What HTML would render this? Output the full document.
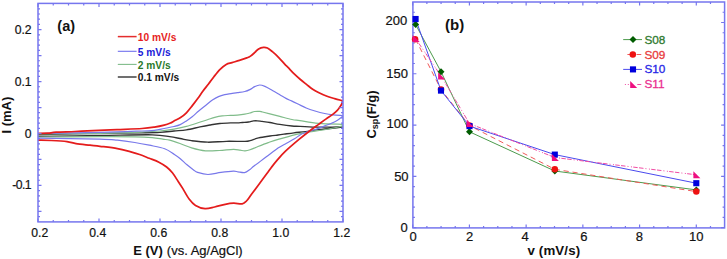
<!DOCTYPE html>
<html><head><meta charset="utf-8"><title>CV and specific capacitance</title>
<style>
html,body{margin:0;padding:0;background:#fff;}
body{width:727px;height:259px;overflow:hidden;font-family:"Liberation Sans",sans-serif;}
svg{display:block;}
</style></head><body>
<svg width="727" height="259" viewBox="0 0 727 259">
<defs><clipPath id="ca"><rect x="38.0" y="3.4" width="305.0" height="218.5"/></clipPath><clipPath id="cb"><rect x="412.9" y="2.0" width="311.7" height="225.9"/></clipPath></defs>
<g clip-path="url(#ca)" fill="none" stroke-linejoin="round" stroke-linecap="round">
<path d="M38.50,134.50 C48.75,134.32 82.75,133.68 100.00,133.40 C117.25,133.12 132.00,132.98 142.00,132.80 C152.00,132.62 154.67,132.60 160.00,132.30 C165.33,132.00 169.60,131.40 174.00,131.00 C178.40,130.60 182.07,130.58 186.40,129.90 C190.73,129.22 196.08,127.72 200.00,126.90 C203.92,126.08 206.60,125.57 209.90,125.00 C213.20,124.43 216.28,123.85 219.80,123.50 C223.32,123.15 228.07,123.00 231.00,122.90 C233.93,122.80 235.50,122.97 237.40,122.90 C239.30,122.83 240.55,122.65 242.40,122.50 C244.25,122.35 246.65,122.27 248.50,122.00 C250.35,121.73 252.05,121.10 253.50,120.90 C254.95,120.70 255.78,120.72 257.20,120.80 C258.62,120.88 259.88,121.12 262.00,121.40 C264.12,121.68 266.93,122.00 269.90,122.50 C272.87,123.00 276.12,123.82 279.80,124.40 C283.48,124.98 288.63,125.68 292.00,126.00 C295.37,126.32 295.58,126.12 300.00,126.30 C304.42,126.48 311.47,127.03 318.50,127.10 C325.53,127.17 338.25,126.77 342.20,126.70 L342.20,127.20 C338.17,127.62 324.10,128.97 318.00,129.70 C311.90,130.43 309.60,131.08 305.60,131.60 C301.60,132.12 297.60,132.37 294.00,132.80 C290.40,133.23 286.67,133.83 284.00,134.20 C281.33,134.57 280.33,134.70 278.00,135.00 C275.67,135.30 273.23,135.52 270.00,136.00 C266.77,136.48 261.93,137.13 258.60,137.90 C255.27,138.67 252.27,140.02 250.00,140.60 C247.73,141.18 248.93,141.28 245.00,141.40 C241.07,141.52 232.60,141.17 226.40,141.30 C220.20,141.43 213.60,142.30 207.80,142.20 C202.00,142.10 196.23,141.32 191.60,140.70 C186.97,140.08 183.67,139.17 180.00,138.50 C176.33,137.83 174.23,137.32 169.60,136.70 C164.97,136.08 163.80,135.00 152.20,134.80 C140.60,134.60 118.95,135.25 100.00,135.50 C81.05,135.75 48.75,136.17 38.50,136.30" stroke="#333333" stroke-width="1.35"/>
<path d="M38.50,134.00 C48.75,133.88 82.75,133.63 100.00,133.30 C117.25,132.97 132.00,132.38 142.00,132.00 C152.00,131.62 154.67,131.47 160.00,131.00 C165.33,130.53 169.60,129.97 174.00,129.20 C178.40,128.43 182.15,127.55 186.40,126.40 C190.65,125.25 196.00,123.40 199.50,122.30 C203.00,121.20 204.85,120.63 207.40,119.80 C209.95,118.97 212.33,117.97 214.80,117.30 C217.27,116.63 219.58,116.12 222.20,115.80 C224.82,115.48 227.97,115.52 230.50,115.40 C233.03,115.28 235.02,115.30 237.40,115.10 C239.78,114.90 242.73,114.55 244.80,114.20 C246.87,113.85 248.15,113.45 249.80,113.00 C251.45,112.55 253.05,111.77 254.70,111.50 C256.35,111.23 258.40,111.32 259.70,111.40 C261.00,111.48 260.80,111.58 262.50,112.00 C264.20,112.42 267.02,113.17 269.90,113.90 C272.78,114.63 276.12,115.47 279.80,116.40 C283.48,117.33 288.63,118.78 292.00,119.50 C295.37,120.22 295.58,120.05 300.00,120.70 C304.42,121.35 311.47,122.80 318.50,123.40 C325.53,124.00 338.25,124.15 342.20,124.30 L342.20,126.20 C339.00,126.83 330.03,128.77 323.00,130.00 C315.97,131.23 307.35,132.07 300.00,133.60 C292.65,135.13 284.18,137.70 278.90,139.20 C273.62,140.70 271.78,141.38 268.30,142.60 C264.82,143.82 261.05,145.30 258.00,146.50 C254.95,147.70 252.17,149.08 250.00,149.80 C247.83,150.52 246.67,150.73 245.00,150.80 C243.33,150.87 241.93,150.43 240.00,150.20 C238.07,149.97 236.83,149.35 233.40,149.40 C229.97,149.45 224.05,150.27 219.40,150.50 C214.75,150.73 210.13,151.25 205.50,150.80 C200.87,150.35 195.85,149.02 191.60,147.80 C187.35,146.58 183.67,144.77 180.00,143.50 C176.33,142.23 172.47,140.92 169.60,140.20 C166.73,139.48 165.70,139.63 162.80,139.20 C159.90,138.77 156.87,138.00 152.20,137.60 C147.53,137.20 143.50,136.95 134.80,136.80 C126.10,136.65 116.05,136.67 100.00,136.70 C83.95,136.73 48.75,136.95 38.50,137.00" stroke="#80bc8a" stroke-width="1.2"/>
<path d="M38.50,133.50 C48.75,133.32 82.75,132.82 100.00,132.40 C117.25,131.98 132.93,131.33 142.00,131.00 C151.07,130.67 150.70,130.82 154.40,130.40 C158.10,129.98 160.93,129.15 164.20,128.50 C167.47,127.85 171.33,127.15 174.00,126.50 C176.67,125.85 178.13,125.53 180.20,124.60 C182.27,123.67 184.35,122.25 186.40,120.90 C188.45,119.55 190.45,118.15 192.50,116.50 C194.55,114.85 196.42,112.92 198.70,111.00 C200.98,109.08 203.92,106.82 206.20,105.00 C208.48,103.18 210.35,101.50 212.40,100.10 C214.45,98.70 216.45,97.52 218.50,96.60 C220.55,95.68 222.62,95.10 224.70,94.60 C226.78,94.10 228.88,93.92 231.00,93.60 C233.12,93.28 235.10,93.05 237.40,92.70 C239.70,92.35 242.73,92.02 244.80,91.50 C246.87,90.98 248.15,90.42 249.80,89.60 C251.45,88.78 253.05,87.37 254.70,86.60 C256.35,85.83 258.00,85.03 259.70,85.00 C261.40,84.97 262.78,85.50 264.90,86.40 C267.02,87.30 269.92,89.02 272.40,90.40 C274.88,91.78 277.53,93.37 279.80,94.70 C282.07,96.03 284.05,97.37 286.00,98.40 C287.95,99.43 289.50,99.97 291.50,100.90 C293.50,101.83 295.55,102.82 298.00,104.00 C300.45,105.18 303.37,106.83 306.20,108.00 C309.03,109.17 311.92,110.08 315.00,111.00 C318.08,111.92 321.70,112.87 324.70,113.50 C327.70,114.13 330.08,114.47 333.00,114.80 C335.92,115.13 340.67,115.38 342.20,115.50 L342.40,116.40 C342.20,116.57 342.08,116.73 341.20,117.40 C340.32,118.07 338.82,119.38 337.10,120.40 C335.38,121.42 332.97,122.58 330.90,123.50 C328.83,124.42 326.77,125.08 324.70,125.90 C322.63,126.72 320.55,127.67 318.50,128.40 C316.45,129.13 314.67,129.57 312.40,130.30 C310.13,131.03 306.97,132.02 304.90,132.80 C302.83,133.58 301.73,134.00 300.00,135.00 C298.27,136.00 296.95,137.32 294.50,138.80 C292.05,140.28 288.05,142.37 285.30,143.90 C282.55,145.43 281.22,145.80 278.00,148.00 C274.78,150.20 270.00,154.08 266.00,157.10 C262.00,160.12 256.67,164.05 254.00,166.10 C251.33,168.15 251.57,168.32 250.00,169.40 C248.43,170.48 246.60,172.20 244.60,172.60 C242.60,173.00 239.87,172.03 238.00,171.80 C236.13,171.57 236.23,171.10 233.40,171.20 C230.57,171.30 225.23,171.85 221.00,172.40 C216.77,172.95 211.90,174.50 208.00,174.50 C204.10,174.50 200.00,173.17 197.60,172.40 C195.20,171.63 195.37,171.17 193.60,169.90 C191.83,168.63 189.27,166.70 187.00,164.80 C184.73,162.90 182.10,160.22 180.00,158.50 C177.90,156.78 176.95,156.13 174.40,154.50 C171.85,152.87 168.88,150.25 164.70,148.70 C160.52,147.15 154.28,146.23 149.30,145.20 C144.32,144.17 140.12,143.33 134.80,142.50 C129.48,141.67 123.20,140.77 117.40,140.20 C111.60,139.63 113.15,139.43 100.00,139.10 C86.85,138.77 48.75,138.35 38.50,138.20" stroke="#7878ea" stroke-width="1.2"/>
<path d="M38.50,133.40 C40.08,133.37 45.08,133.40 48.00,133.20 C50.92,133.00 51.50,132.48 56.00,132.20 C60.50,131.92 68.83,131.77 75.00,131.50 C81.17,131.23 86.00,130.92 93.00,130.60 C100.00,130.28 108.83,129.95 117.00,129.60 C125.17,129.25 135.77,128.92 142.00,128.50 C148.23,128.08 150.70,127.67 154.40,127.10 C158.10,126.53 161.53,125.78 164.20,125.10 C166.87,124.42 168.77,123.68 170.40,123.00 C172.03,122.32 172.37,121.87 174.00,121.00 C175.63,120.13 178.13,119.17 180.20,117.80 C182.27,116.43 184.35,114.87 186.40,112.80 C188.45,110.73 190.55,107.87 192.50,105.40 C194.45,102.93 196.35,100.40 198.10,98.00 C199.85,95.60 201.27,93.33 203.00,91.00 C204.73,88.67 206.68,86.38 208.50,84.00 C210.32,81.62 211.97,79.15 213.90,76.70 C215.83,74.25 218.05,71.35 220.10,69.30 C222.15,67.25 224.22,65.52 226.20,64.40 C228.18,63.28 229.80,63.27 232.00,62.60 C234.20,61.93 236.93,61.18 239.40,60.40 C241.87,59.62 244.95,58.62 246.80,57.90 C248.65,57.18 249.15,57.02 250.50,56.10 C251.85,55.18 253.55,53.60 254.90,52.40 C256.25,51.20 257.17,49.75 258.60,48.90 C260.03,48.05 262.03,47.45 263.50,47.30 C264.97,47.15 265.92,47.27 267.40,48.00 C268.88,48.73 270.55,50.15 272.40,51.70 C274.25,53.25 276.45,55.23 278.50,57.30 C280.55,59.37 283.12,62.42 284.70,64.10 C286.28,65.78 286.42,65.77 288.00,67.40 C289.58,69.03 292.13,71.88 294.20,73.90 C296.27,75.92 298.35,77.75 300.40,79.50 C302.45,81.25 304.45,82.77 306.50,84.40 C308.55,86.03 310.53,87.87 312.70,89.30 C314.87,90.73 317.12,91.85 319.50,93.00 C321.88,94.15 324.48,95.27 327.00,96.20 C329.52,97.13 332.10,97.87 334.60,98.60 C337.10,99.33 340.77,100.27 342.00,100.60 L342.60,101.60 C342.47,102.00 342.17,103.23 341.80,104.00 C341.43,104.77 341.15,105.15 340.40,106.20 C339.65,107.25 338.63,108.90 337.30,110.30 C335.97,111.70 334.25,113.17 332.40,114.60 C330.55,116.03 328.50,117.27 326.20,118.90 C323.90,120.53 321.15,122.55 318.60,124.40 C316.05,126.25 314.12,127.53 310.90,130.00 C307.68,132.47 303.53,135.67 299.30,139.20 C295.07,142.73 289.18,147.72 285.50,151.20 C281.82,154.68 279.53,157.43 277.20,160.10 C274.87,162.77 273.22,164.95 271.50,167.20 C269.78,169.45 268.95,170.80 266.90,173.60 C264.85,176.40 261.77,180.55 259.20,184.00 C256.63,187.45 253.62,191.47 251.50,194.30 C249.38,197.13 248.05,199.42 246.50,201.00 C244.95,202.58 244.33,203.43 242.20,203.80 C240.07,204.17 236.53,203.12 233.70,203.20 C230.87,203.28 228.38,203.67 225.20,204.30 C222.02,204.93 217.97,206.28 214.60,207.00 C211.23,207.72 208.18,208.87 205.00,208.60 C201.82,208.33 198.15,207.00 195.50,205.40 C192.85,203.80 191.23,201.83 189.10,199.00 C186.97,196.17 184.52,191.32 182.70,188.40 C180.88,185.48 179.92,184.10 178.20,181.50 C176.48,178.90 174.33,175.22 172.40,172.80 C170.47,170.38 168.85,168.77 166.60,167.00 C164.35,165.23 161.78,163.65 158.90,162.20 C156.02,160.75 152.52,159.58 149.30,158.30 C146.08,157.02 142.82,155.62 139.60,154.50 C136.38,153.38 133.70,152.58 130.00,151.60 C126.30,150.62 122.40,149.48 117.40,148.60 C112.40,147.72 104.57,146.87 100.00,146.30 C95.43,145.73 94.00,145.65 90.00,145.20 C86.00,144.75 79.83,144.20 76.00,143.60 C72.17,143.00 71.08,142.12 67.00,141.60 C62.92,141.08 56.25,140.73 51.50,140.50 C46.75,140.27 40.67,140.25 38.50,140.20" stroke="#e41c1c" stroke-width="1.75"/>
</g>
<path d="M38.00,221.90v-3.50 M38.00,3.40v3.50 M53.25,221.90v-2.00 M53.25,3.40v2.00 M68.50,221.90v-2.00 M68.50,3.40v2.00 M83.75,221.90v-2.00 M83.75,3.40v2.00 M99.00,221.90v-3.50 M99.00,3.40v3.50 M114.25,221.90v-2.00 M114.25,3.40v2.00 M129.50,221.90v-2.00 M129.50,3.40v2.00 M144.75,221.90v-2.00 M144.75,3.40v2.00 M160.00,221.90v-3.50 M160.00,3.40v3.50 M175.25,221.90v-2.00 M175.25,3.40v2.00 M190.50,221.90v-2.00 M190.50,3.40v2.00 M205.75,221.90v-2.00 M205.75,3.40v2.00 M221.00,221.90v-3.50 M221.00,3.40v3.50 M236.25,221.90v-2.00 M236.25,3.40v2.00 M251.50,221.90v-2.00 M251.50,3.40v2.00 M266.75,221.90v-2.00 M266.75,3.40v2.00 M282.00,221.90v-3.50 M282.00,3.40v3.50 M297.25,221.90v-2.00 M297.25,3.40v2.00 M312.50,221.90v-2.00 M312.50,3.40v2.00 M327.75,221.90v-2.00 M327.75,3.40v2.00 M343.00,221.90v-3.50 M343.00,3.40v3.50 M38.00,216.62h2.00 M343.00,216.62h-2.00 M38.00,211.43h3.50 M343.00,211.43h-3.50 M38.00,206.23h2.00 M343.00,206.23h-2.00 M38.00,201.03h2.00 M343.00,201.03h-2.00 M38.00,195.84h2.00 M343.00,195.84h-2.00 M38.00,190.65h2.00 M343.00,190.65h-2.00 M38.00,185.45h3.50 M343.00,185.45h-3.50 M38.00,180.25h2.00 M343.00,180.25h-2.00 M38.00,175.06h2.00 M343.00,175.06h-2.00 M38.00,169.87h2.00 M343.00,169.87h-2.00 M38.00,164.67h2.00 M343.00,164.67h-2.00 M38.00,159.47h3.50 M343.00,159.47h-3.50 M38.00,154.28h2.00 M343.00,154.28h-2.00 M38.00,149.09h2.00 M343.00,149.09h-2.00 M38.00,143.89h2.00 M343.00,143.89h-2.00 M38.00,138.69h2.00 M343.00,138.69h-2.00 M38.00,133.50h3.50 M343.00,133.50h-3.50 M38.00,128.31h2.00 M343.00,128.31h-2.00 M38.00,123.11h2.00 M343.00,123.11h-2.00 M38.00,117.92h2.00 M343.00,117.92h-2.00 M38.00,112.72h2.00 M343.00,112.72h-2.00 M38.00,107.53h3.50 M343.00,107.53h-3.50 M38.00,102.33h2.00 M343.00,102.33h-2.00 M38.00,97.13h2.00 M343.00,97.13h-2.00 M38.00,91.94h2.00 M343.00,91.94h-2.00 M38.00,86.75h2.00 M343.00,86.75h-2.00 M38.00,81.55h3.50 M343.00,81.55h-3.50 M38.00,76.35h2.00 M343.00,76.35h-2.00 M38.00,71.16h2.00 M343.00,71.16h-2.00 M38.00,65.97h2.00 M343.00,65.97h-2.00 M38.00,60.77h2.00 M343.00,60.77h-2.00 M38.00,55.58h3.50 M343.00,55.58h-3.50 M38.00,50.38h2.00 M343.00,50.38h-2.00 M38.00,45.18h2.00 M343.00,45.18h-2.00 M38.00,39.99h2.00 M343.00,39.99h-2.00 M38.00,34.80h2.00 M343.00,34.80h-2.00 M38.00,29.60h3.50 M343.00,29.60h-3.50 M38.00,24.41h2.00 M343.00,24.41h-2.00 M38.00,19.21h2.00 M343.00,19.21h-2.00 M38.00,14.02h2.00 M343.00,14.02h-2.00 M38.00,8.82h2.00 M343.00,8.82h-2.00" stroke="#7676ee" stroke-width="1.2" fill="none"/>
<rect x="38.00" y="3.40" width="305.00" height="218.50" fill="none" stroke="#7676ee" stroke-width="1.5"/>
<g font-family="Liberation Sans, sans-serif" font-size="12.2" fill="#111" stroke="#111" stroke-width="0.2"><text x="39.80" y="236.80" text-anchor="middle">0.2</text><text x="97.70" y="236.80" text-anchor="middle">0.4</text><text x="158.70" y="236.80" text-anchor="middle">0.6</text><text x="219.70" y="236.80" text-anchor="middle">0.8</text><text x="280.70" y="236.80" text-anchor="middle">1.0</text><text x="341.70" y="236.80" text-anchor="middle">1.2</text><text x="31.60" y="34.10" text-anchor="end">0.2</text><text x="31.60" y="86.05" text-anchor="end">0.1</text><text x="31.60" y="138.00" text-anchor="end">0</text><text x="31.60" y="188.90" text-anchor="end" textLength="19.4" lengthAdjust="spacing">-0.1</text></g>
<text x="133.2" y="254.6" font-family="Liberation Sans, sans-serif" font-size="13" fill="#111"><tspan font-weight="bold">E (V)</tspan><tspan stroke="#111" stroke-width="0.2" dx="0.4"> (vs. Ag/AgCl)</tspan></text>
<text transform="translate(10.8,133.5) rotate(-90)" font-family="Liberation Sans, sans-serif" font-size="13" font-weight="bold" fill="#111">I (mA)</text>
<text x="57.3" y="31" font-family="Liberation Sans, sans-serif" font-size="14.5" font-weight="bold" fill="#111">(a)</text>
<path d="M117.8,36.60H136.6" stroke="#e42d2d" stroke-width="1.5"/>
<text x="137.8" y="40.80" font-family="Liberation Sans, sans-serif" font-size="10.2" font-weight="bold" fill="#e61e1e">10 mV/s</text>
<path d="M117.8,51.30H136.6" stroke="#7070ee" stroke-width="1.1"/>
<text x="137.8" y="55.50" font-family="Liberation Sans, sans-serif" font-size="10.2" font-weight="bold" fill="#1a1ad8">5 mV/s</text>
<path d="M117.8,64.40H136.6" stroke="#80bc8a" stroke-width="1.1"/>
<text x="137.8" y="68.60" font-family="Liberation Sans, sans-serif" font-size="10.2" font-weight="bold" fill="#2a7a2a">2 mV/s</text>
<path d="M117.8,77.00H136.6" stroke="#333333" stroke-width="1.4"/>
<text x="137.8" y="81.20" font-family="Liberation Sans, sans-serif" font-size="10.2" font-weight="bold" fill="#111111">0.1 mV/s</text>
<path d="M412.70,227.90v-3.50 M412.70,2.00v3.50 M426.88,227.90v-2.00 M426.88,2.00v2.00 M441.06,227.90v-2.00 M441.06,2.00v2.00 M455.24,227.90v-2.00 M455.24,2.00v2.00 M469.42,227.90v-3.50 M469.42,2.00v3.50 M483.60,227.90v-2.00 M483.60,2.00v2.00 M497.78,227.90v-2.00 M497.78,2.00v2.00 M511.96,227.90v-2.00 M511.96,2.00v2.00 M526.14,227.90v-3.50 M526.14,2.00v3.50 M540.32,227.90v-2.00 M540.32,2.00v2.00 M554.50,227.90v-2.00 M554.50,2.00v2.00 M568.68,227.90v-2.00 M568.68,2.00v2.00 M582.86,227.90v-3.50 M582.86,2.00v3.50 M597.04,227.90v-2.00 M597.04,2.00v2.00 M611.22,227.90v-2.00 M611.22,2.00v2.00 M625.40,227.90v-2.00 M625.40,2.00v2.00 M639.58,227.90v-3.50 M639.58,2.00v3.50 M653.76,227.90v-2.00 M653.76,2.00v2.00 M667.94,227.90v-2.00 M667.94,2.00v2.00 M682.12,227.90v-2.00 M682.12,2.00v2.00 M696.30,227.90v-3.50 M696.30,2.00v3.50 M710.48,227.90v-2.00 M710.48,2.00v2.00 M412.90,227.60h3.50 M724.60,227.60h-3.50 M412.90,217.34h2.00 M724.60,217.34h-2.00 M412.90,207.09h2.00 M724.60,207.09h-2.00 M412.90,196.83h2.00 M724.60,196.83h-2.00 M412.90,186.58h2.00 M724.60,186.58h-2.00 M412.90,176.32h3.50 M724.60,176.32h-3.50 M412.90,166.07h2.00 M724.60,166.07h-2.00 M412.90,155.81h2.00 M724.60,155.81h-2.00 M412.90,145.56h2.00 M724.60,145.56h-2.00 M412.90,135.31h2.00 M724.60,135.31h-2.00 M412.90,125.05h3.50 M724.60,125.05h-3.50 M412.90,114.79h2.00 M724.60,114.79h-2.00 M412.90,104.54h2.00 M724.60,104.54h-2.00 M412.90,94.28h2.00 M724.60,94.28h-2.00 M412.90,84.03h2.00 M724.60,84.03h-2.00 M412.90,73.77h3.50 M724.60,73.77h-3.50 M412.90,63.52h2.00 M724.60,63.52h-2.00 M412.90,53.26h2.00 M724.60,53.26h-2.00 M412.90,43.01h2.00 M724.60,43.01h-2.00 M412.90,32.75h2.00 M724.60,32.75h-2.00 M412.90,22.50h3.50 M724.60,22.50h-3.50 M412.90,12.24h2.00 M724.60,12.24h-2.00" stroke="#7676ee" stroke-width="1.2" fill="none"/>
<rect x="412.90" y="2.00" width="311.70" height="225.90" fill="none" stroke="#7676ee" stroke-width="1.5"/>
<g font-family="Liberation Sans, sans-serif" font-size="13" fill="#111" stroke="#111" stroke-width="0.2"><text x="413.00" y="241.10" text-anchor="middle">0</text><text x="469.52" y="241.10" text-anchor="middle">2</text><text x="525.14" y="241.10" text-anchor="middle">4</text><text x="583.76" y="241.10" text-anchor="middle">6</text><text x="639.48" y="241.10" text-anchor="middle">8</text><text x="696.20" y="241.10" text-anchor="middle">10</text><text x="407.80" y="231.50" text-anchor="end">0</text><text x="408.60" y="180.72" text-anchor="end">50</text><text x="408.30" y="127.95" text-anchor="end">100</text><text x="408.00" y="78.47" text-anchor="end">150</text><text x="407.30" y="24.60" text-anchor="end">200</text></g>
<text x="527.5" y="255.4" font-family="Liberation Sans, sans-serif" font-size="13.3" font-weight="bold" fill="#111" textLength="52.6" lengthAdjust="spacing">v (mV/s)</text>
<text transform="translate(376.3,138.6) rotate(-90)" font-family="Liberation Sans, sans-serif" font-size="13" font-weight="bold" fill="#111">C<tspan font-size="9" dy="1.8">sp</tspan><tspan dy="-1.8">(F/g)</tspan></text>
<text x="445" y="30.2" font-family="Liberation Sans, sans-serif" font-size="15" font-weight="bold" fill="#111">(b)</text>
<g clip-path="url(#cb)" fill="none">
<polyline points="415.60,24.50 441.00,71.70 469.50,131.80 554.80,171.00 696.30,189.90" stroke="#4c9a4c" stroke-width="1"/>
<polyline points="415.60,39.30 441.00,89.60 469.50,125.60 554.80,169.30 696.30,191.60" stroke="#f05a5a" stroke-width="1" stroke-dasharray="5.2,3.8"/>
<polyline points="415.60,19.00 441.00,90.60 469.50,126.10 554.80,154.60 696.30,183.20" stroke="#4a4aee" stroke-width="1"/>
<polyline points="415.60,38.60 441.00,75.90 469.50,123.60 554.80,157.50 696.30,174.80" stroke="#f04ca4" stroke-width="1" stroke-dasharray="4.5,1.3,4.5,2,1,2.5,1,1.3"/>
</g>
<path d="M415.60,21.00 l3.50,3.50 l-3.50,3.50 l-3.50,-3.50 z" fill="#005c00"/><path d="M441.00,68.20 l3.50,3.50 l-3.50,3.50 l-3.50,-3.50 z" fill="#005c00"/><path d="M469.50,128.30 l3.50,3.50 l-3.50,3.50 l-3.50,-3.50 z" fill="#005c00"/><path d="M554.80,167.50 l3.50,3.50 l-3.50,3.50 l-3.50,-3.50 z" fill="#005c00"/><path d="M696.30,186.40 l3.50,3.50 l-3.50,3.50 l-3.50,-3.50 z" fill="#005c00"/><circle cx="415.10" cy="39.30" r="3.25" fill="#ee1111"/><circle cx="441.00" cy="89.60" r="3.25" fill="#ee1111"/><circle cx="469.50" cy="125.60" r="3.25" fill="#ee1111"/><circle cx="554.80" cy="169.30" r="3.25" fill="#ee1111"/><circle cx="696.30" cy="191.60" r="3.25" fill="#ee1111"/><rect x="412.55" y="15.95" width="6.10" height="6.10" fill="#0000dd"/><rect x="437.95" y="87.55" width="6.10" height="6.10" fill="#0000dd"/><rect x="466.45" y="123.05" width="6.10" height="6.10" fill="#0000dd"/><rect x="551.75" y="151.55" width="6.10" height="6.10" fill="#0000dd"/><rect x="693.25" y="180.15" width="6.10" height="6.10" fill="#0000dd"/><path d="M412.70,35.10 L412.70,42.10 L419.70,42.10 z" fill="#ee0f80"/><path d="M438.10,72.40 L438.10,79.40 L445.10,79.40 z" fill="#ee0f80"/><path d="M466.60,120.10 L466.60,127.10 L473.60,127.10 z" fill="#ee0f80"/><path d="M551.90,154.00 L551.90,161.00 L558.90,161.00 z" fill="#ee0f80"/><path d="M693.40,171.30 L693.40,178.30 L700.40,178.30 z" fill="#ee0f80"/>
<path d="M623.2,39.6H642.0" stroke="#4c9a4c" stroke-width="1"/>
<path d="M633.00,36.00 l3.50,3.50 l-3.50,3.50 l-3.50,-3.50 z" fill="#005c00"/>
<path d="M627.4,54.5H630.5M636.6,54.5H641.3" stroke="#f05a5a" stroke-width="1"/>
<circle cx="632.80" cy="54.50" r="3.25" fill="#ee1111"/>
<path d="M623.2,69.4H642.0" stroke="#4a4aee" stroke-width="1"/>
<rect x="629.95" y="66.35" width="6.10" height="6.10" fill="#0000dd"/>
<path d="M624.9,84.5h1M627.8,84.5h1M637.3,84.5H641.3" stroke="#f04ca4" stroke-width="1"/>
<path d="M630.20,80.90 L630.20,87.90 L637.20,87.90 z" fill="#ee0f80"/>
<text x="644.4" y="44.10" font-family="Liberation Sans, sans-serif" font-size="11.8" fill="#2f7a2f" stroke="#2f7a2f" stroke-width="0.3">S08</text>
<text x="644.4" y="58.60" font-family="Liberation Sans, sans-serif" font-size="11.8" fill="#e83a3a" stroke="#e83a3a" stroke-width="0.3">S09</text>
<text x="644.4" y="73.10" font-family="Liberation Sans, sans-serif" font-size="11.8" fill="#2626e6" stroke="#2626e6" stroke-width="0.3">S10</text>
<text x="644.4" y="87.80" font-family="Liberation Sans, sans-serif" font-size="11.8" fill="#ea2f8f" stroke="#ea2f8f" stroke-width="0.3">S11</text>
</svg>
</body></html>
